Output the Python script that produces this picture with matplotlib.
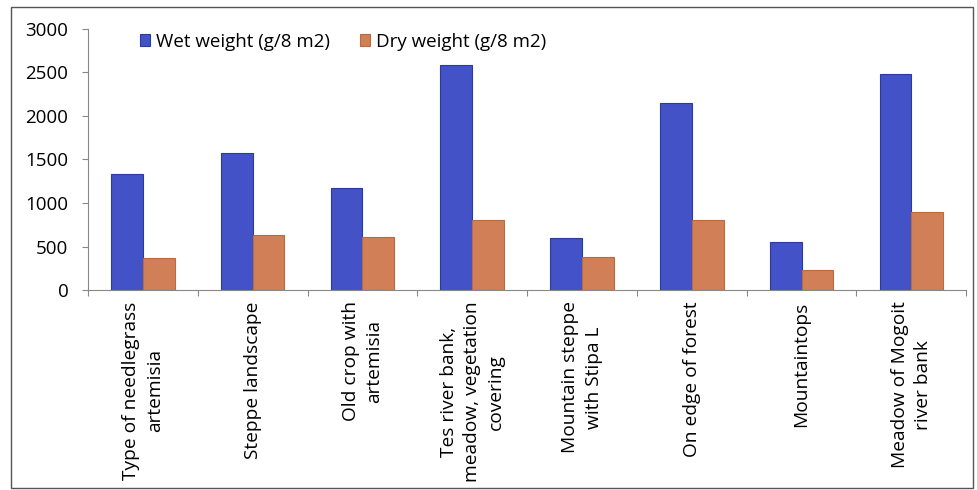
import numpy as np
import matplotlib.pyplot as plt
from matplotlib.patches import Rectangle

plt.rcParams['font.family'] = ['Open Sans', 'DejaVu Sans']

sites = ['Type of needlegrass\nartemisia', 'Steppe landscape', 'Old crop with\nartemisia',
         'Tes river bank,\nmeadow, vegetation\ncovering', 'Mountain steppe\nwith Stipa L',
         'On edge of forest', 'Mountaintops', 'Meadow of Mogoit\nriver bank']
wet = [1330, 1570, 1170, 2580, 600, 2150, 550, 2480]
dry = [370, 630, 610, 800, 380, 800, 230, 900]

fig = plt.figure(figsize=(9.77, 4.90), dpi=100)
ax = fig.add_axes([0.090, 0.408, 0.899, 0.533])

x = np.arange(len(sites))
w = 0.29
ax.bar(x - w / 2, wet, w, color='#4352c6', edgecolor='#2b3a9e', linewidth=0.8,
       label='Wet weight (g/8 m2)')
ax.bar(x + w / 2, dry, w, color='#d17f56', edgecolor='#b86a42', linewidth=0.8,
       label='Dry weight (g/8 m2)')

ax.set_xlim(-0.5, len(sites) - 0.5)
ax.set_ylim(0, 3000)
ax.set_yticks(range(0, 3001, 500))
ax.tick_params(axis='y', labelsize=13.5, length=4, color='#888888', pad=10)

# category labels hang below, ticks sit between the groups
ax.set_xticks(np.arange(len(sites) + 1) - 0.5)
ax.set_xticklabels([])
ax.tick_params(axis='x', length=4, color='#888888')
for i, s in enumerate(sites):
    ax.text(i, -130, s, rotation=90, ha='center', va='top', fontsize=13.8,
            multialignment='center', linespacing=1.4)

for side in ['top', 'right']:
    ax.spines[side].set_visible(False)
for side in ['left', 'bottom']:
    ax.spines[side].set_color('#888888')

ax.legend(loc='upper left', bbox_to_anchor=(0.04, 1.05), ncol=2, frameon=False,
          fontsize=13.5, handlelength=0.55, handleheight=0.55, handletextpad=0.3,
          columnspacing=1.6)

fig.patches.append(Rectangle((0.011, 0.005), 0.985, 0.98, transform=fig.transFigure,
                             fill=False, edgecolor='#555555', linewidth=1))

fig.savefig('out.png', dpi=100)
